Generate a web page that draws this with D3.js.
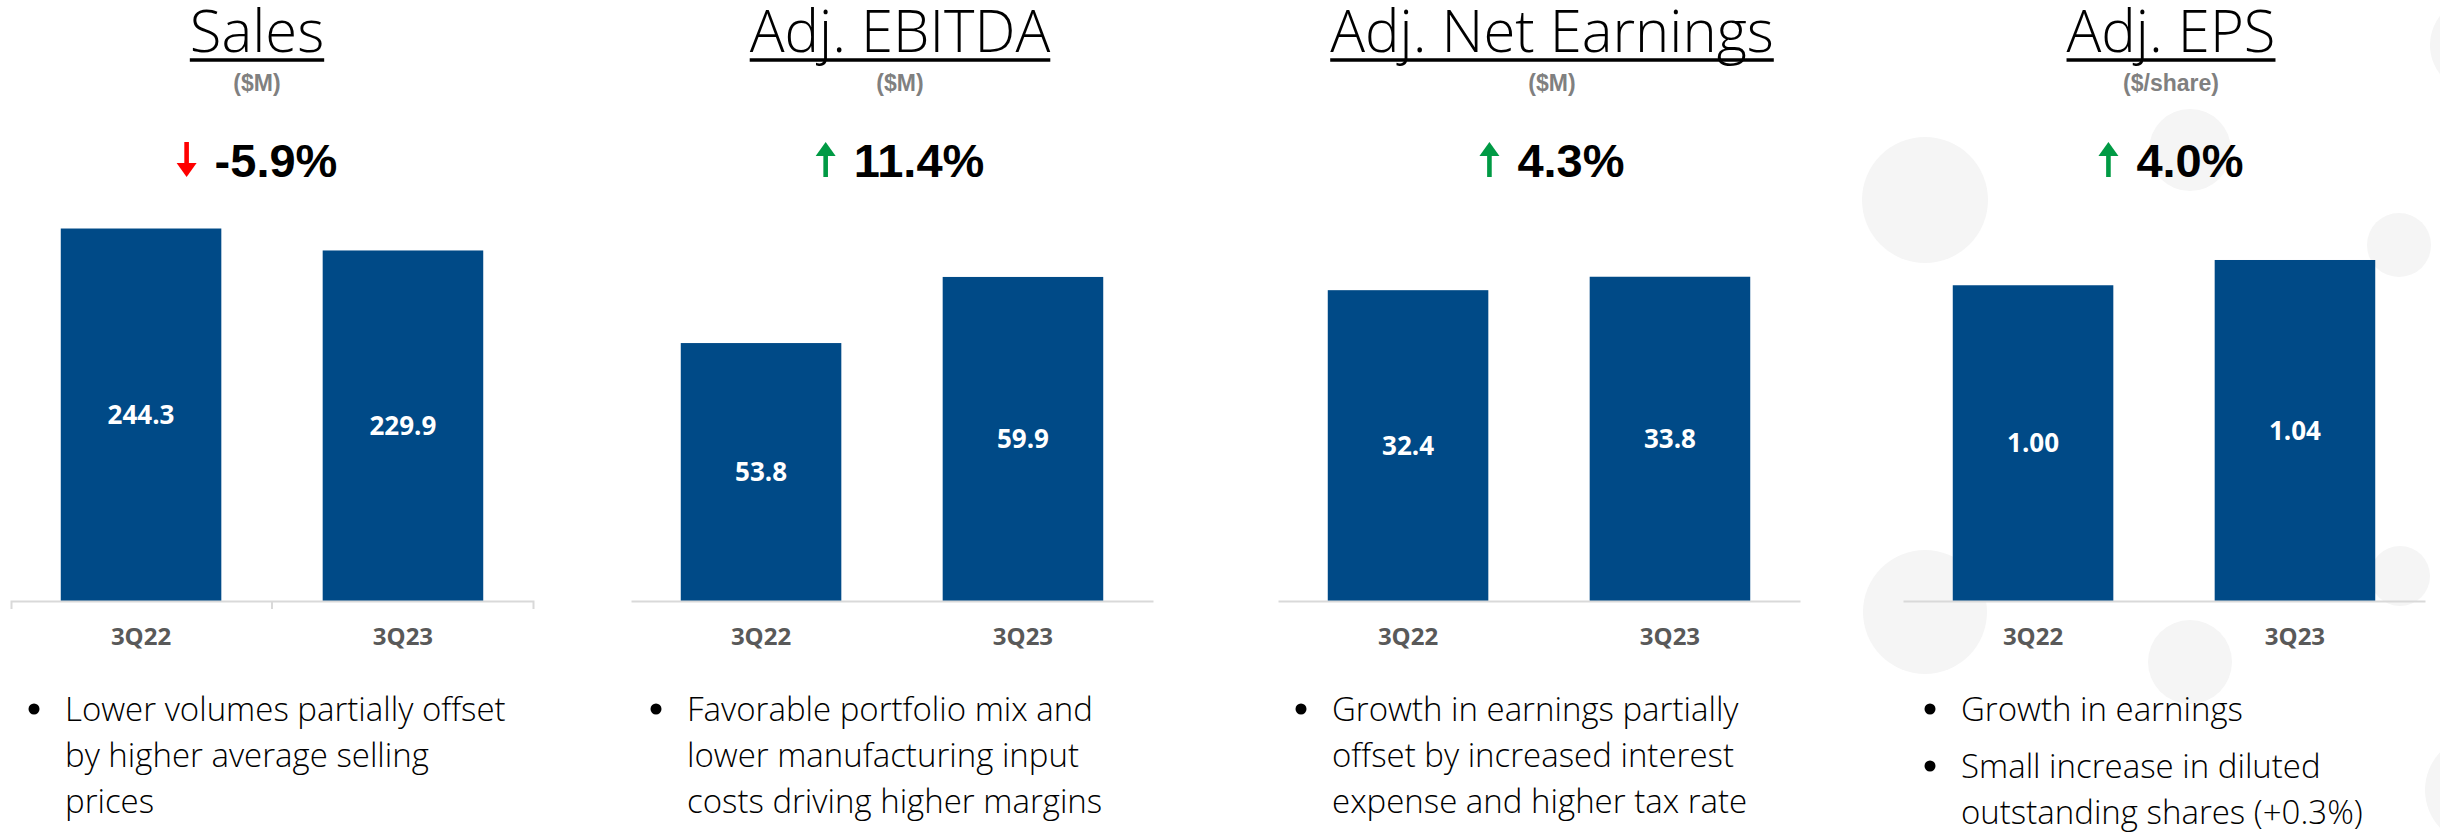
<!DOCTYPE html>
<html lang="en">
<head>
<meta charset="UTF-8" />
<title>3Q23 Financial Highlights</title>
<style>
  html, body { margin: 0; padding: 0; background: #fff; }
  svg { display: block; }
  .title { font-family: "Open Sans", sans-serif; font-weight: 300; font-size: 58px; fill: #000; }
  .unit { font-family: "Liberation Sans", Arial, sans-serif; font-weight: bold; font-size: 23px; fill: #808080; }
  .change { font-family: "Liberation Sans", Arial, sans-serif; font-weight: bold; font-size: 47px; fill: #000; }
  .bar-label { font-family: "Open Sans", sans-serif; font-weight: 700; font-size: 26px; fill: #fff; }
  .cat text { font-family: "Open Sans", sans-serif; font-weight: 700; font-size: 24px; fill: #595959; }
  .note { font-family: "Open Sans", sans-serif; font-weight: 300; font-size: 33px; fill: #000; }
</style>
</head>
<body>
<svg></svg>
<script src="https://d3js.org/d3.v7.min.js"></script>
<script>
  // ---- data ----
  const metrics = ["Sales", "Adj. EBITDA", "Adj. Net Earnings", "Adj. EPS"];
  const units = ["($M)", "($M)", "($M)", "($/share)"];
  const changePct = [-5.9, 11.4, 4.3, 4.0];
  const quarters = ["3Q22", "3Q23"];
  const salesValues = [244.3, 229.9];
  const ebitdaValues = [53.8, 59.9];
  const netEarningsValues = [32.4, 33.8];
  const epsValues = [1.00, 1.04];
  const valueDecimals = [1, 1, 1, 2];
  // value axis ranges (EBITDA and EPS axes don't start at zero in the slide)
  const yDomains = [[0, 263], [30, 67], [0, 41.8], [0.5, 1.135]];
  const notes = [
    [["Lower volumes partially offset", "by higher average selling", "prices"]],
    [["Favorable portfolio mix and", "lower manufacturing input", "costs driving higher margins"]],
    [["Growth in earnings partially", "offset by increased interest", "expense and higher tax rate"]],
    [["Growth in earnings"], ["Small increase in diluted", "outstanding shares (+0.3%)"]]
  ];

  // ---- layout ----
  const W = 2440, H = 833;
  const axisLeft = [11, 631, 1278, 1903];
  const axisWidth = 522;
  const headerCenter = [257, 900, 1552, 2171];
  const bulletDotX = [34, 656, 1301, 1930];
  const baseY = 601, topY = 200;
  const barColor = "#004a87";
  const up = "#009a44", down = "#ff0000";
  // faint background bubbles on the right side of the slide
  const bubbles = [
    [1925, 200, 63], [2190, 150, 41], [2399, 245, 32], [2478, 45, 48],
    [1925, 612, 62], [2400, 576, 30], [2190, 662, 42], [2480, 790, 55]
  ];

  const series = [salesValues, ebitdaValues, netEarningsValues, epsValues];

  const svg = d3.select("svg").attr("width", W).attr("height", H);

  svg.append("g")
    .selectAll("circle")
    .data(bubbles)
    .join("circle")
    .attr("cx", d => d[0])
    .attr("cy", d => d[1])
    .attr("r", d => d[2])
    .attr("fill", "#f5f5f5");

  metrics.forEach((name, i) => {
    const g = svg.append("g");
    const x = d3.scaleBand()
      .domain(quarters)
      .range([axisLeft[i], axisLeft[i] + axisWidth])
      .paddingInner(0.387)
      .paddingOuter(0.19);
    const y = d3.scaleLinear().domain(yDomains[i]).range([baseY, topY]);
    const rows = quarters.map((q, j) => ({ q, v: series[i][j] }));
    const fmt = d3.format("." + valueDecimals[i] + "f");

    // bars
    g.append("g")
      .selectAll("rect")
      .data(rows)
      .join("rect")
      .attr("x", d => x(d.q))
      .attr("y", d => y(d.v))
      .attr("width", x.bandwidth())
      .attr("height", d => baseY - y(d.v))
      .attr("fill", barColor);

    g.append("g")
      .selectAll("text")
      .data(rows)
      .join("text")
      .attr("class", "bar-label")
      .attr("x", d => x(d.q) + x.bandwidth() / 2)
      .attr("y", d => (y(d.v) + baseY) / 2)
      .attr("dy", "0.36em")
      .attr("text-anchor", "middle")
      .text(d => fmt(d.v));

    // category axis
    const axis = g.append("g")
      .attr("class", "cat")
      .attr("transform", `translate(0,${baseY})`)
      .call(d3.axisBottom(x).tickSize(0).tickSizeOuter(i === 0 ? 8 : 0));
    axis.select(".domain").attr("stroke", "#d9d9d9").attr("stroke-width", 2);
    axis.selectAll("text").attr("y", 44).attr("dy", null);
    if (i === 0) {
      const mid = x(quarters[1]) - x.step() * x.paddingInner() / 2;
      axis.append("line")
        .attr("x1", mid).attr("x2", mid)
        .attr("y1", 0).attr("y2", 8)
        .attr("stroke", "#d9d9d9").attr("stroke-width", 2);
    }

    // header: title, underline, unit
    const cx = headerCenter[i];
    const title = g.append("text")
      .attr("class", "title")
      .attr("x", cx).attr("y", 52)
      .attr("text-anchor", "middle")
      .text(name);
    const tw = title.node().getComputedTextLength();
    g.append("line")
      .attr("x1", cx - tw / 2).attr("x2", cx + tw / 2)
      .attr("y1", 60).attr("y2", 60)
      .attr("stroke", "#000").attr("stroke-width", 3.5);
    g.append("text")
      .attr("class", "unit")
      .attr("x", cx).attr("y", 91)
      .attr("text-anchor", "middle")
      .text(units[i]);

    // change with arrow
    const pct = changePct[i];
    const chg = g.append("g");
    const ct = chg.append("text")
      .attr("class", "change")
      .attr("y", 177)
      .text(d3.format(".1f")(pct).replace("\u2212", "-") + "%");
    const cw = ct.node().getComputedTextLength();
    const arrowW = 20, gap = 18;
    const start = cx - (arrowW + gap + cw) / 2;
    ct.attr("x", start + arrowW + gap);
    const ax = start + arrowW / 2;
    const col = pct < 0 ? down : up;
    if (pct < 0) {
      chg.append("rect").attr("x", ax - 2.3).attr("y", 142).attr("width", 4.6).attr("height", 24).attr("fill", col);
      chg.append("path").attr("d", `M${ax - 10},163 L${ax + 10},163 L${ax},177 Z`).attr("fill", col);
    } else {
      chg.append("rect").attr("x", ax - 2.3).attr("y", 153).attr("width", 4.6).attr("height", 24).attr("fill", col);
      chg.append("path").attr("d", `M${ax - 10},156 L${ax + 10},156 L${ax},142 Z`).attr("fill", col);
    }

    // commentary bullets
    let by = 721;
    notes[i].forEach((lines, k) => {
      if (k > 0) by += 11;
      g.append("circle")
        .attr("cx", bulletDotX[i]).attr("cy", by - 12).attr("r", 5.5)
        .attr("fill", "#000");
      lines.forEach(line => {
        g.append("text")
          .attr("class", "note")
          .attr("x", bulletDotX[i] + 31).attr("y", by)
          .text(line);
        by += 46;
      });
    });
  });
</script>
</body>
</html>
